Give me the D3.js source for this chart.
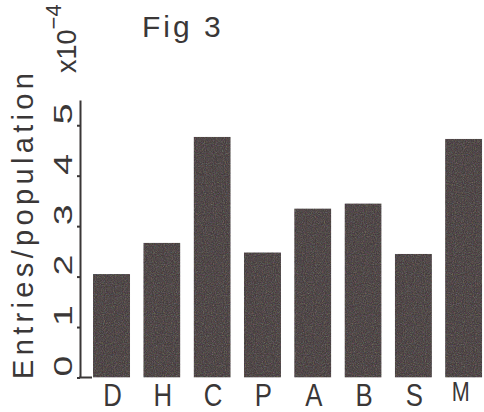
<!DOCTYPE html>
<html>
<head>
<meta charset="utf-8">
<script src="https://cdn.jsdelivr.net/npm/d3@7"></script>
<style>
  html, body { margin: 0; padding: 0; background: #fff; }
  text { font-family: "Liberation Sans", Arial, sans-serif; fill: #3a3737; }
</style>
</head>
<body>
<script>
// values (entries per population, x10^-4)
const categories = ["D", "H", "C", "P", "A", "B", "S", "M"];
const values = [2.05, 2.67, 4.77, 2.48, 3.35, 3.45, 2.45, 4.73];
const yTicks = [0, 1, 2, 3, 4, 5];

const width = 484;
const height = 412;

const svg = d3.select("body")
  .append("svg")
  .attr("width", width)
  .attr("height", height);

// grainy scan look for the bars
const filter = svg.append("defs").append("filter")
  .attr("id", "grain")
  .attr("color-interpolation-filters", "sRGB")
  .attr("x", 0).attr("y", 0).attr("width", 1).attr("height", 1);
filter.append("feTurbulence")
  .attr("type", "fractalNoise")
  .attr("baseFrequency", "0.9")
  .attr("numOctaves", 2)
  .attr("seed", 3)
  .attr("result", "noise");
filter.append("feColorMatrix")
  .attr("in", "noise")
  .attr("type", "saturate")
  .attr("values", "0.8")
  .attr("result", "cnoise");
filter.append("feComposite")
  .attr("in", "SourceGraphic")
  .attr("in2", "cnoise")
  .attr("operator", "arithmetic")
  .attr("k1", 0).attr("k2", 1).attr("k3", 0.4).attr("k4", -0.1)
  .attr("result", "mix");
filter.append("feComposite")
  .attr("in", "mix")
  .attr("in2", "SourceGraphic")
  .attr("operator", "in");

const x = d3.scaleBand()
  .domain(categories)
  .range([88, 487.2])
  .paddingInner(0.264)
  .paddingOuter(0.1);

const y = d3.scaleLinear()
  .domain([0, 5.5])
  .range([377.5, 100]);

// bars
svg.selectAll("rect.bar")
  .data(categories.map((c, i) => ({ c, v: values[i] })))
  .enter().append("rect")
  .attr("class", "bar")
  .attr("x", d => x(d.c))
  .attr("y", d => y(d.v))
  .attr("width", x.bandwidth())
  .attr("height", d => y(0) - y(d.v))
  .attr("fill", "#514949")
  .attr("filter", "url(#grain)");

// y axis
const yAxis = d3.axisLeft(y)
  .tickValues(yTicks)
  .tickSize(3)
  .tickSizeOuter(0)
  .tickFormat("");
const ga = svg.append("g")
  .attr("transform", "translate(80,0)")
  .call(yAxis);
ga.select(".domain").attr("stroke", "#3a3737").attr("stroke-width", 2);
ga.selectAll(".tick line").attr("stroke", "#3a3737").attr("stroke-width", 2);

// little foot at the origin
svg.append("line")
  .attr("x1", 79).attr("x2", 92)
  .attr("y1", y(0)).attr("y2", y(0))
  .attr("stroke", "#3a3737").attr("stroke-width", 2);

// tick labels, rotated and stretched like the plotter font
svg.selectAll("text.ytick")
  .data(yTicks)
  .enter().append("text")
  .attr("class", "ytick")
  .attr("transform", d => `translate(72,${y(d) - 1}) rotate(-90) scale(1.5,1)`)
  .attr("font-size", 25)
  .text(d => d);

// exponent
const ex = svg.append("text")
  .attr("transform", "translate(76,73) rotate(-90)")
  .attr("font-size", 27);
ex.append("tspan").text("x10");
ex.append("tspan").attr("dy", -15).attr("font-size", 22).text("−4");

// axis title
svg.append("text")
  .attr("transform", "translate(33,379) rotate(-90)")
  .attr("font-size", 29)
  .attr("textLength", 306)
  .attr("lengthAdjust", "spacing")
  .text("Entries/population");

// category labels
svg.selectAll("text.cat")
  .data(categories)
  .enter().append("text")
  .attr("class", "cat")
  .attr("text-anchor", "middle")
  .attr("transform", d => d === "M"
    ? `translate(${x(d) + x.bandwidth() / 2 - 3},401) scale(0.8,1)`
    : `translate(${x(d) + x.bandwidth() / 2 + 1},405.5) scale(0.92,1.1)`)
  .attr("font-size", d => d === "M" ? 27 : 28)
  .text(d => d);

// title
svg.append("text")
  .attr("x", 142)
  .attr("y", 37)
  .attr("font-size", 30)
  .attr("letter-spacing", 3)
  .text("Fig 3");
</script>
</body>
</html>
